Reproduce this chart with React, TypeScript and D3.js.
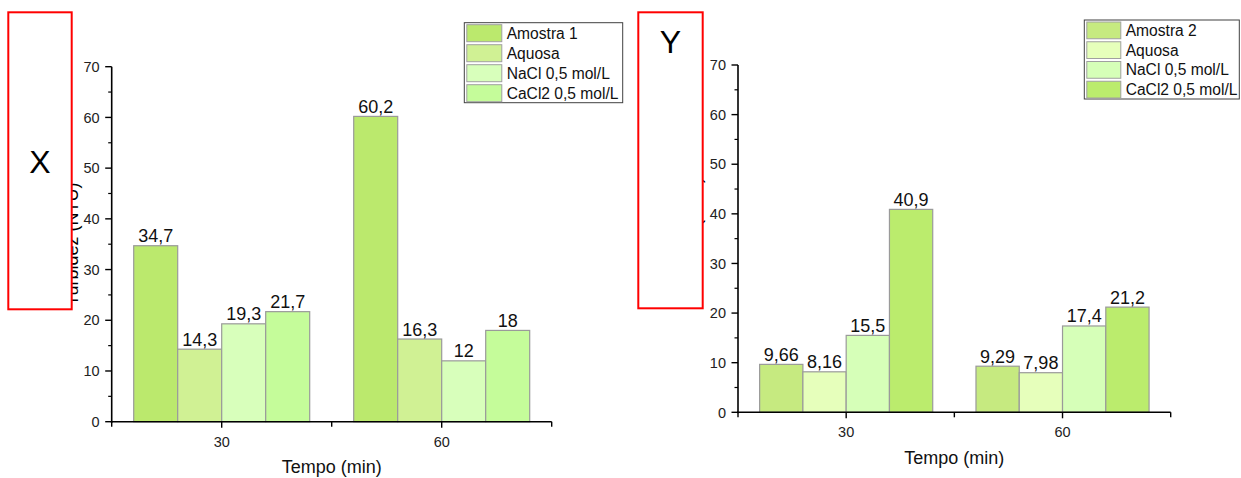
import React from "react";
import * as d3 from "d3";

const categories = ["30", "60"];
const yTicks = [0, 10, 20, 30, 40, 50, 60, 70];

const leftSeriesNames = ["Amostra 1", "Aquosa", "NaCl 0,5 mol/L", "CaCl2 0,5 mol/L"];
const leftAmostra1 = [34.7, 60.2];
const leftAquosa = [14.3, 16.3];
const leftNaCl = [19.3, 12];
const leftCaCl2 = [21.7, 18];
const leftColors = ["#bbe96d", "#d0f194", "#d8ffbb", "#c5fc9a"];

const rightSeriesNames = ["Amostra 2", "Aquosa", "NaCl 0,5 mol/L", "CaCl2 0,5 mol/L"];
const rightAmostra2 = [9.66, 9.29];
const rightAquosa = [8.16, 7.98];
const rightNaCl = [15.5, 17.4];
const rightCaCl2 = [40.9, 21.2];
const rightColors = ["#c6ea80", "#e6ffbb", "#d6ffb8", "#bbec6d"];

const FONT = "'Liberation Sans', Arial, Helvetica, sans-serif";

const fmt = (v: number) => String(v).replace(".", ",");

type PanelProps = {
  names: string[];
  series: number[][];
  colors: string[];
  x0: number;
  x1: number;
  yBottom: number;
  yTop: number;
  legendX: number;
  legendY: number;
  legendW: number;
  legendH: number;
  legendTextDX: number;
  swatchW: number;
  boxX: number;
  boxY: number;
  boxW: number;
  boxH: number;
  boxLabel: string;
  boxLabelY: number;
  titleX: number;
  titleSize: number;
};

function Panel(p: PanelProps) {
  const x = d3.scaleBand<string>().domain(categories).range([p.x0, p.x1]).paddingInner(0).paddingOuter(0);
  const y = d3.scaleLinear().domain([0, 70]).range([p.yBottom, p.yTop]);
  const bw = x.bandwidth();
  const inner = d3.scaleBand<string>().domain(p.names).range([bw * 0.1, bw * 0.9]).padding(0);
  const minor = d3.range(5, 70, 10);
  const boundaries = [p.x0, ...categories.map((c) => (x(c) as number) + bw)];
  const yMid = (p.yBottom + p.yTop) / 2;
  const xMid = (p.x0 + p.x1) / 2;
  const rowH = p.legendH / p.names.length;

  return (
    <g fontFamily={FONT}>
      {/* y axis title (mostly hidden by box) */}
      <text
        transform={`translate(${p.titleX},${yMid}) rotate(-90)`}
        textAnchor="middle"
        fontSize={p.titleSize}
        fill="#000"
      >
        Turbidez (NTU)
      </text>

      {/* bars */}
      {p.series.map((vals, si) =>
        categories.map((c, ci) => {
          const bx = (x(c) as number) + (inner(p.names[si]) as number);
          const v = vals[ci];
          return (
            <g key={`${si}-${ci}`}>
              <rect
                x={bx}
                y={y(v)}
                width={inner.bandwidth()}
                height={y(0) - y(v)}
                fill={p.colors[si]}
                stroke="#9a9a9a"
                strokeWidth={1.2}
              />
              <text
                x={bx + inner.bandwidth() / 2}
                y={y(v) - 3.5}
                textAnchor="middle"
                fontSize={18}
                fill="#111"
              >
                {fmt(v)}
              </text>
            </g>
          );
        })
      )}

      {/* y axis */}
      <line x1={p.x0} x2={p.x0} y1={y(0) + 1} y2={y(70)} stroke="#000" strokeWidth={1.6} />
      {yTicks.map((t) => (
        <g key={`yt${t}`}>
          <line x1={p.x0 - 6.5} x2={p.x0} y1={y(t)} y2={y(t)} stroke="#000" strokeWidth={1.4} />
          <text x={p.x0 - 12} y={y(t)} dy="0.36em" textAnchor="end" fontSize={14.5} fill="#222">
            {t}
          </text>
        </g>
      ))}
      {minor.map((t) => (
        <line key={`ym${t}`} x1={p.x0 - 3.5} x2={p.x0} y1={y(t)} y2={y(t)} stroke="#000" strokeWidth={1.2} />
      ))}

      {/* x axis */}
      <line x1={p.x0 - 1} x2={p.x1} y1={y(0)} y2={y(0)} stroke="#000" strokeWidth={1.6} />
      {boundaries.map((b, i) => (
        <line key={`xb${i}`} x1={b} x2={b} y1={y(0)} y2={y(0) + 5} stroke="#000" strokeWidth={1.4} />
      ))}
      {categories.map((c) => {
        const cx = (x(c) as number) + bw / 2;
        return (
          <g key={`xt${c}`}>
            <line x1={cx} x2={cx} y1={y(0)} y2={y(0) + 6} stroke="#000" strokeWidth={1.4} />
            <text x={cx} y={y(0) + 25} textAnchor="middle" fontSize={14.5} fill="#222">
              {c}
            </text>
          </g>
        );
      })}
      <text x={xMid} y={y(0) + 51.3} textAnchor="middle" fontSize={18} fill="#111">
        Tempo (min)
      </text>

      {/* legend */}
      <rect
        x={p.legendX}
        y={p.legendY}
        width={p.legendW}
        height={p.legendH}
        fill="#fff"
        stroke="#404040"
        strokeWidth={1}
      />
      {p.names.map((n, i) => (
        <g key={`lg${i}`}>
          <rect
            x={p.legendX + 2.5}
            y={p.legendY + 2 + i * rowH}
            width={p.swatchW}
            height={rowH - 3}
            fill={p.colors[i]}
            stroke="#a0a0a0"
            strokeWidth={1}
          />
          <text
            x={p.legendX + p.legendTextDX}
            y={p.legendY + 2 + i * rowH + (rowH - 3) / 2}
            dy="0.36em"
            fontSize={15.6}
            fill="#111"
          >
            {n}
          </text>
        </g>
      ))}

      {/* red box overlay */}
      <rect x={p.boxX} y={p.boxY} width={p.boxW} height={p.boxH} fill="#fff" stroke="#ff0000" strokeWidth={2} />
      <text x={p.boxX + p.boxW / 2} y={p.boxLabelY} textAnchor="middle" fontSize={32} fill="#000">
        {p.boxLabel}
      </text>
    </g>
  );
}

export default function App() {
  return (
    <svg
      width={1241}
      height={478}
      style={{ position: "absolute", left: 0, top: 0, display: "block", background: "#fff" }}
    >
      <rect x={0} y={0} width={1241} height={478} fill="#fff" />
      <Panel
        names={leftSeriesNames}
        series={[leftAmostra1, leftAquosa, leftNaCl, leftCaCl2]}
        colors={leftColors}
        x0={111.7}
        x1={551.7}
        yBottom={421.7}
        yTop={66.7}
        legendX={464.3}
        legendY={22.7}
        legendW={158.4}
        legendH={80}
        legendTextDX={42.4}
        swatchW={35}
        boxX={8.3}
        boxY={12.3}
        boxW={63.4}
        boxH={297}
        boxLabel="X"
        boxLabelY={173}
        titleX={77.5}
        titleSize={18}
      />
      <Panel
        names={rightSeriesNames}
        series={[rightAmostra2, rightAquosa, rightNaCl, rightCaCl2]}
        colors={rightColors}
        x0={738}
        x1={1170.7}
        yBottom={412.3}
        yTop={65}
        legendX={1084.3}
        legendY={20}
        legendW={155}
        legendH={79}
        legendTextDX={41.4}
        swatchW={34}
        boxX={638.3}
        boxY={12.3}
        boxW={64.4}
        boxH={296}
        boxLabel="Y"
        boxLabelY={53}
        titleX={701.3}
        titleSize={18}
      />
    </svg>
  );
}
